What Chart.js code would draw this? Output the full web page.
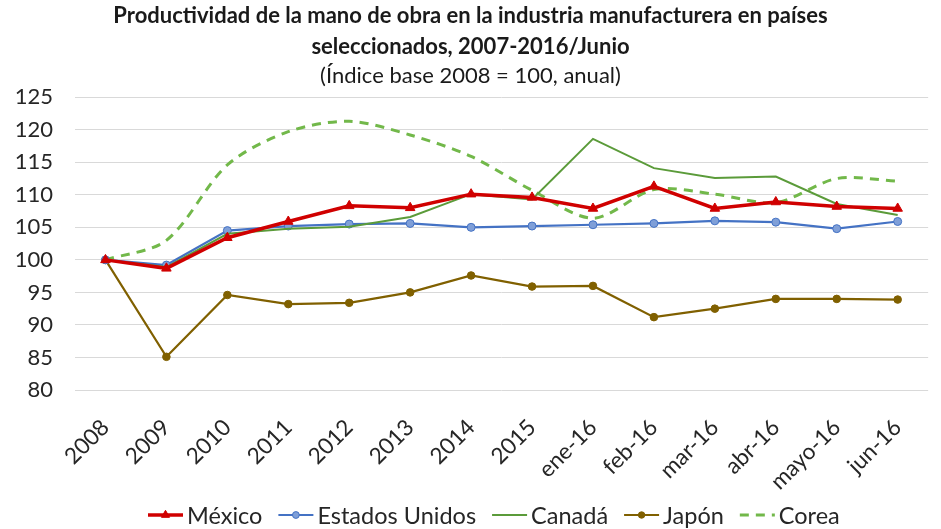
<!DOCTYPE html>
<html>
<head>
<meta charset="utf-8">
<script src="https://cdn.jsdelivr.net/npm/chart.js@4/dist/chart.umd.min.js"></script>
<style>
  html, body { margin: 0; padding: 0; background: #ffffff; }
  #wrap { width: 941px; height: 529px; position: relative; }
</style>
</head>
<body>
<div id="wrap"><canvas id="chart"></canvas></div>
<script>
// Categorías del eje horizontal
const categories = ['2008', '2009', '2010', '2011', '2012', '2013', '2014', '2015',
  'ene-16', 'feb-16', 'mar-16', 'abr-16', 'mayo-16', 'jun-16'];

// Índice de productividad (2008 = 100)
const mexico        = [100.0, 98.7, 103.4, 105.9, 108.3, 108.0, 110.1, 109.6, 107.9, 111.3, 107.9, 108.9, 108.2, 107.9];
const estadosUnidos = [100.0, 99.2, 104.5, 105.2, 105.5, 105.6, 105.0, 105.2, 105.4, 105.6, 106.0, 105.8, 104.8, 105.9];
const canada        = [100.0, 98.9, 104.0, 104.8, 105.1, 106.6, 110.1, 109.3, 118.6, 114.1, 112.6, 112.8, 108.6, 106.9];
const japon         = [100.0, 85.1, 94.6, 93.2, 93.4, 95.0, 97.6, 95.9, 96.0, 91.2, 92.5, 94.0, 94.0, 93.9];
const corea         = [100.0, 103.0, 114.6, 119.7, 121.3, 119.2, 115.9, 110.7, 106.4, 110.8, 110.1, 108.8, 112.5, 112.1];

// Marcas del eje vertical
const yTicks = [80, 85, 90, 95, 100, 105, 110, 115, 120, 125];

const FONT = 'Lato, "Open Sans", sans-serif';

// Leyenda dibujada a mano: línea corta con su marcador, seguida del nombre
const lineLegend = {
  id: 'lineLegend',
  afterDraw(chart, args, opts) {
    const ctx = chart.ctx;
    let x = opts.startX;
    const y = opts.y;
    ctx.save();
    ctx.font = opts.fontSize + 'px ' + FONT;
    ctx.textBaseline = 'middle';
    chart.data.datasets.forEach(ds => {
      const w = opts.swatch;
      ctx.save();
      ctx.strokeStyle = ds.borderColor;
      ctx.lineWidth = ds.borderWidth;
      ctx.setLineDash(ds.borderDash || []);
      ctx.beginPath();
      ctx.moveTo(x, y);
      ctx.lineTo(x + w, y);
      ctx.stroke();
      ctx.restore();
      if (ds.pointRadius > 0) {
        ctx.save();
        ctx.fillStyle = ds.pointBackgroundColor;
        ctx.strokeStyle = ds.pointBorderColor;
        Chart.helpers.drawPoint(ctx, {
          pointStyle: ds.pointStyle,
          rotation: 0,
          radius: ds.pointRadius * 0.85,
          borderWidth: 1
        }, x + w / 2, y);
        ctx.restore();
      }
      ctx.fillStyle = '#262626';
      ctx.fillText(ds.label, x + w + opts.textGap, y + 1);
      x += w + opts.textGap + ctx.measureText(ds.label).width + opts.gap;
    });
    ctx.restore();
  }
};

new Chart(document.getElementById('chart'), {
  type: 'line',
  data: {
    labels: categories,
    datasets: [
      {
        label: 'México',
        data: mexico,
        borderColor: '#D00000',
        backgroundColor: '#D00000',
        borderWidth: 3.5,
        pointStyle: 'triangle',
        pointRadius: 5.5,
        pointBackgroundColor: '#D00000',
        pointBorderColor: '#D00000',
        pointBorderWidth: 1,
        tension: 0,
        order: 1
      },
      {
        label: 'Estados Unidos',
        data: estadosUnidos,
        borderColor: '#4472C4',
        backgroundColor: '#4472C4',
        borderWidth: 2.2,
        pointStyle: 'circle',
        pointRadius: 4,
        pointBackgroundColor: '#7F9FD8',
        pointBorderColor: '#4472C4',
        pointBorderWidth: 1,
        tension: 0,
        order: 3
      },
      {
        label: 'Canadá',
        data: canada,
        borderColor: '#5B9B3A',
        backgroundColor: '#5B9B3A',
        borderWidth: 2,
        pointRadius: 0,
        tension: 0,
        order: 2
      },
      {
        label: 'Japón',
        data: japon,
        borderColor: '#806000',
        backgroundColor: '#806000',
        borderWidth: 2.2,
        pointStyle: 'circle',
        pointRadius: 3.8,
        pointBackgroundColor: '#806000',
        pointBorderColor: '#806000',
        pointBorderWidth: 1,
        tension: 0,
        order: 4
      },
      {
        label: 'Corea',
        data: corea,
        borderColor: '#72B84A',
        backgroundColor: '#72B84A',
        borderWidth: 3,
        borderDash: [9, 7],
        pointRadius: 0,
        tension: 0.3,
        order: 5
      }
    ]
  },
  options: {
    responsive: true,
    maintainAspectRatio: false,
    animation: false,
    events: [],
    layout: { padding: { top: 0, left: 0, right: 0, bottom: 39 } },
    plugins: {
      legend: { display: false },
      tooltip: { enabled: false },
      title: {
        display: true,
        text: ['Productividad de la mano de obra en la industria manufacturera en países',
               'seleccionados, 2007-2016/Junio'],
        color: '#1a1a1a',
        font: { family: FONT, size: 22, weight: 'bold', lineHeight: 1.38 },
        padding: { top: 1, bottom: 0 }
      },
      subtitle: {
        display: true,
        text: '(Índice base 2008 = 100, anual)',
        color: '#1a1a1a',
        font: { family: FONT, size: 22, weight: 'normal', lineHeight: 1.25 },
        padding: { top: 0, bottom: 8 }
      },
      lineLegend: { startX: 148, y: 515, swatch: 35, textGap: 4, gap: 16, fontSize: 23.5 }
    },
    scales: {
      x: {
        offset: true,
        grid: { display: false, drawTicks: false },
        border: { display: false },
        ticks: {
          color: '#262626',
          font: { family: FONT, size: 22.5 },
          maxRotation: 45,
          minRotation: 45,
          autoSkip: false,
          padding: 24
        },
        afterFit(scale) { scale.height = 100; }
      },
      y: {
        min: 80,
        max: 125,
        afterBuildTicks(scale) { scale.ticks = yTicks.map(v => ({ value: v })); },
        grid: { color: '#D9D9D9', lineWidth: 1, drawTicks: false },
        border: { display: false },
        ticks: {
          color: '#262626',
          font: { family: FONT, size: 22 },
          padding: 22
        },
        afterFit(scale) { scale.width = 75; }
      }
    }
  },
  plugins: [lineLegend]
});
</script>
</body>
</html>
